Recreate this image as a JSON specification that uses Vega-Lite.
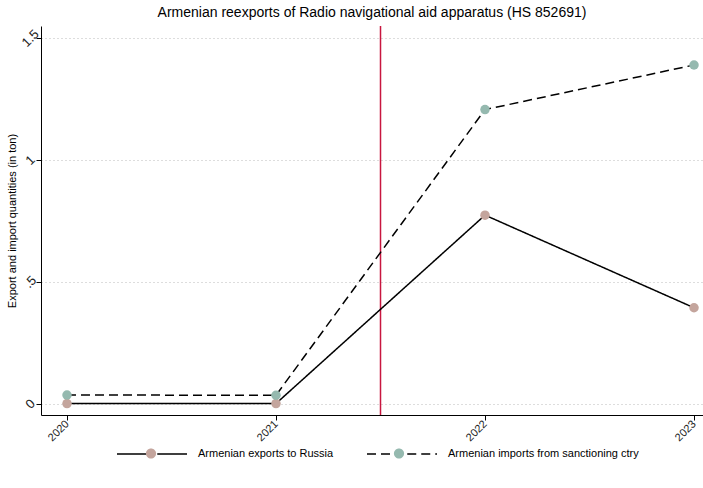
{
  "$schema": "https://vega.github.io/schema/vega-lite/v6.json",
  "width": 662,
  "height": 389,
  "autosize": {"type": "none"},
  "padding": {"left": 41, "top": 26, "right": 0, "bottom": 73},
  "background": "white",
  "title": {
    "text": "Armenian reexports of Radio navigational aid apparatus (HS 852691)",
    "fontSize": 14,
    "font": "Liberation Sans",
    "fontWeight": "normal",
    "color": "black",
    "anchor": "middle",
    "offset": 5
  },
  "config": {
    "view": {"stroke": null},
    "font": "Liberation Sans"
  },
  "datasets": {
    "trade": [
      {"year": 2020, "value": 0, "series": "Armenian exports to Russia"},
      {"year": 2021, "value": 0, "series": "Armenian exports to Russia"},
      {"year": 2022, "value": 0.773, "series": "Armenian exports to Russia"},
      {"year": 2023, "value": 0.393, "series": "Armenian exports to Russia"},
      {"year": 2020, "value": 0.035, "series": "Armenian imports from sanctioning ctry"},
      {"year": 2021, "value": 0.034, "series": "Armenian imports from sanctioning ctry"},
      {"year": 2022, "value": 1.206, "series": "Armenian imports from sanctioning ctry"},
      {"year": 2023, "value": 1.389, "series": "Armenian imports from sanctioning ctry"}
    ],
    "cutoff": [{"year": 2021.5}]
  },
  "encoding": {
    "x": {
      "field": "year",
      "type": "quantitative",
      "scale": {"domain": [2019.8756, 2023.043], "nice": false, "zero": false},
      "axis": {
        "title": null,
        "values": [2020, 2021, 2022, 2023],
        "format": "d",
        "labelAngle": -45,
        "labelAlign": "right",
        "labelBaseline": "middle",
        "labelFontSize": 11,
        "labelColor": "#222",
        "labelPadding": 2,
        "tickSize": 5,
        "tickColor": "black",
        "domainColor": "black",
        "grid": false
      }
    },
    "y": {
      "field": "value",
      "type": "quantitative",
      "scale": {"domain": [-0.047, 1.549], "nice": false, "zero": false},
      "axis": {
        "title": "Export and import quantities (in ton)",
        "titleFontSize": 11,
        "titleFontWeight": "normal",
        "titleColor": "black",
        "titleX": -24,
        "values": [0, 0.5, 1, 1.5],
        "labelExpr": "datum.value == 0 ? '0' : datum.value == 0.5 ? '.5' : datum.value == 1 ? '1' : '1.5'",
        "labelAngle": -45,
        "labelAlign": "center",
        "labelBaseline": "middle",
        "labelFontSize": 13,
        "labelColor": "#222",
        "labelPadding": 6,
        "tickSize": 5,
        "tickColor": "black",
        "domainColor": "black",
        "grid": true,
        "gridColor": "#bbbbbb",
        "gridDash": [1, 3],
        "gridWidth": 1
      }
    }
  },
  "layer": [
    {
      "data": {"name": "cutoff"},
      "mark": {"type": "rule", "color": "#c8163f", "strokeWidth": 1.5},
      "encoding": {
        "y": null
      }
    },
    {
      "data": {"name": "trade"},
      "mark": {"type": "line", "color": "black", "strokeWidth": 1.5},
      "encoding": {
        "detail": {"field": "series", "type": "nominal"},
        "strokeDash": {
          "field": "series",
          "type": "nominal",
          "scale": {"range": [[1, 0], [9, 5]]},
          "legend": {
            "orient": "none",
            "legendX": 75,
            "legendY": 392,
            "direction": "horizontal",
            "title": null,
            "symbolType": "M-1,0L-0.15,0M0.15,0L1,0",
            "symbolSize": 4900,
            "symbolStrokeColor": "black",
            "symbolStrokeWidth": 1.5,
            "labelFontSize": 11,
            "labelFont": "Liberation Sans",
            "labelColor": "black",
            "labelLimit": 400,
            "labelOffset": 10,
            "columnPadding": 30,
            "zindex": 0
          }
        }
      }
    },
    {
      "data": {"name": "trade"},
      "mark": {"type": "circle", "size": 90, "opacity": 1},
      "encoding": {
        "color": {
          "field": "series",
          "type": "nominal",
          "scale": {
            "domain": ["Armenian exports to Russia", "Armenian imports from sanctioning ctry"],
            "range": ["#c4a59d", "#95b9af"]
          },
          "legend": {
            "orient": "none",
            "legendX": 75,
            "legendY": 392,
            "direction": "horizontal",
            "title": null,
            "symbolType": "M-0.145,0A0.145,0.145,0,1,0,0.145,0A0.145,0.145,0,1,0,-0.145,0Z",
            "symbolSize": 4900,
            "symbolStrokeWidth": 0,
            "symbolOpacity": 1,
            "labelExpr": "''",
            "labelFontSize": 11,
            "labelOffset": 0,
            "columnPadding": 178,
            "zindex": 1
          }
        }
      }
    }
  ]
}
